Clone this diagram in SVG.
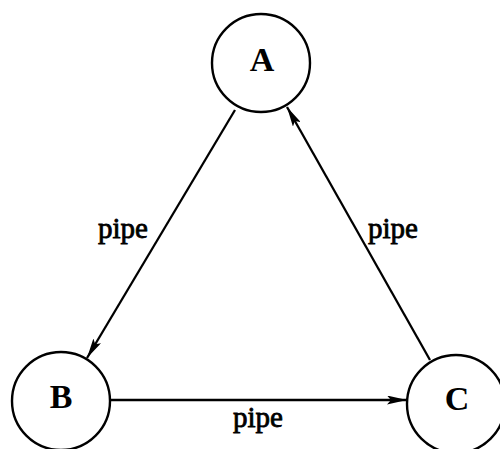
<svg xmlns="http://www.w3.org/2000/svg" width="500" height="449" viewBox="0 0 500 449">
<style>
.node circle{fill:#fff;stroke:#000;stroke-width:2.4}
.node text{font-family:"Liberation Serif","Times New Roman",serif;font-weight:bold;font-size:34px;text-anchor:middle;fill:#000}
.edge line{stroke:#000;stroke-width:2.3}
.lbl{font-family:"Liberation Serif","Times New Roman",serif;font-size:29px;fill:#000;stroke:#000;stroke-width:0.8}
</style>
<defs>
<marker id="arr" markerUnits="userSpaceOnUse" viewBox="0 0 20 9" refX="20" refY="4.5" markerWidth="20" markerHeight="9" orient="auto">
<path d="M0,0 L20,4.5 L0,9 L4,4.5 z" fill="#000"/>
</marker>
</defs>
<rect width="500" height="449" fill="#fff"/>
<g id="connectors" class="edge">
<line id="e-AB" x1="235" y1="110" x2="87" y2="358" marker-end="url(#arr)"/>
<line id="e-BC" x1="110" y1="400" x2="407" y2="400" marker-end="url(#arr)"/>
<line id="e-CA" x1="430" y1="360" x2="287" y2="107" marker-end="url(#arr)"/>
<text class="lbl" x="98" y="238">pipe</text>
<text class="lbl" x="368" y="238">pipe</text>
<text class="lbl" x="233" y="427">pipe</text>
</g>
<g id="node-A" class="node">
<circle cx="261" cy="63" r="49"/>
<text x="262" y="71">A</text>
</g>
<g id="node-B" class="node">
<circle cx="61" cy="401" r="49"/>
<text x="61" y="408">B</text>
</g>
<g id="node-C" class="node">
<circle cx="456" cy="404" r="49"/>
<text x="457" y="410">C</text>
</g>
</svg>
